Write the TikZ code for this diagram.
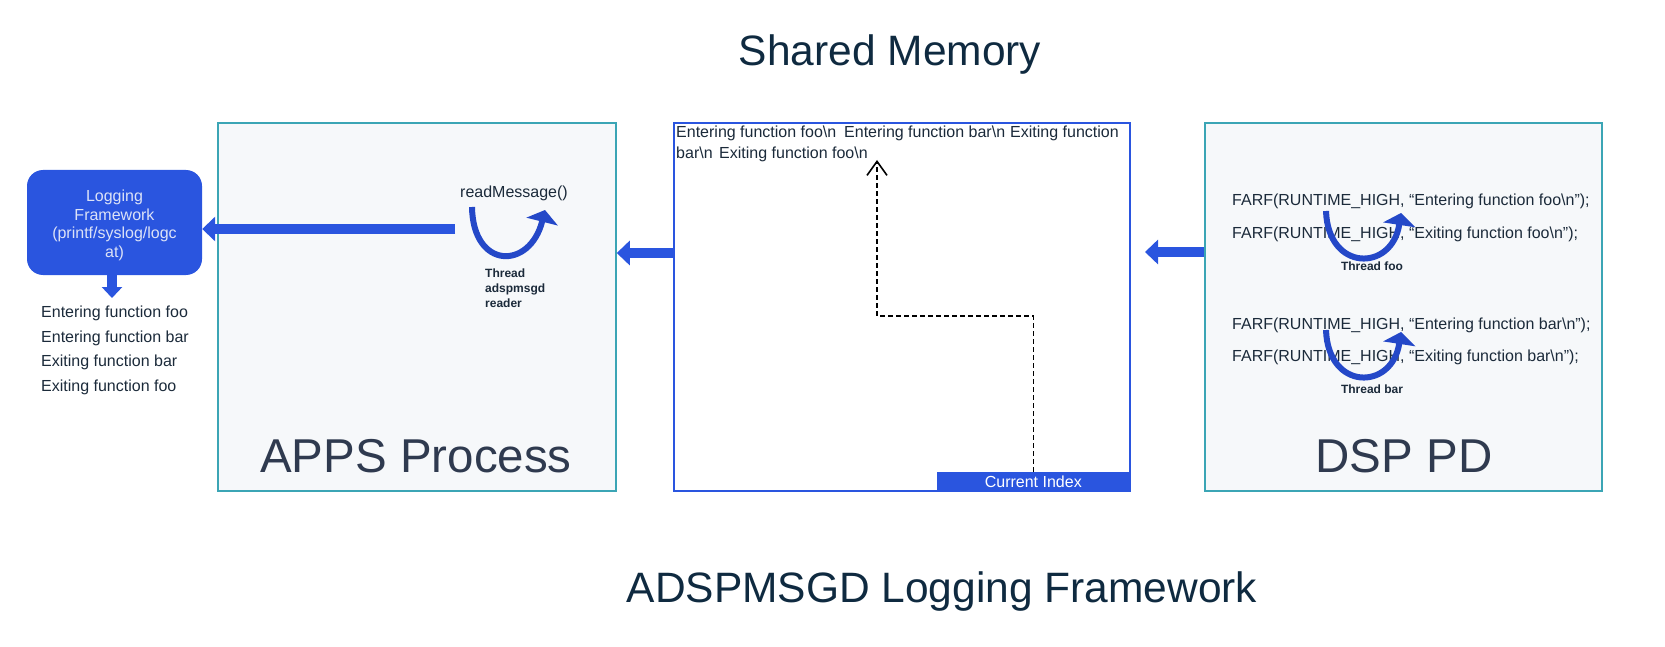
\documentclass[tikz,border=0pt]{standalone}
\usepackage{fontspec}
\setmainfont{Liberation Sans}
\usetikzlibrary{arrows.meta}
\definecolor{blueA}{HTML}{2A55DF}
\definecolor{blueArc}{HTML}{2448C8}
\definecolor{tealB}{HTML}{3BA5B5}
\definecolor{boxfill}{HTML}{F6F8FA}
\definecolor{textc}{HTML}{1B2A3A}
\definecolor{bigtext}{HTML}{2F3A4F}
\definecolor{titlec}{HTML}{0F2A40}
\definecolor{logtext}{HTML}{DCE2F7}
\begin{document}
\begin{tikzpicture}[x=1pt,y=-1pt,
  txt/.style={font=\fontsize{16}{19}\selectfont, text=textc, inner sep=0pt},
  smalltxt/.style={font=\fontsize{12}{15}\selectfont\bfseries, text=textc, inner sep=0pt},
  bigtxt/.style={font=\fontsize{47.5}{52}\selectfont, text=bigtext, inner sep=0pt, anchor=base},
  titletxt/.style={font=\fontsize{42.5}{48}\selectfont, text=titlec, inner sep=0pt, anchor=base},
  panel/.style={draw=tealB, line width=1.5pt, fill=boxfill, minimum height=368pt, inner sep=0pt},
  fat/.style={draw=blueA, line width=10.5pt, -{Triangle[length=13pt,width=24pt]}},
  curvarrow/.style={draw=blueArc, line width=6pt, -{Triangle[length=12pt,width=32pt]}},
]
\useasboundingbox (0,0) rectangle (1665,647);

% titles
\node[titletxt] (t1) at (890,66) {Shared Memory};
\node[titletxt] (t2) at (942,602) {ADSPMSGD Logging Framework};

% panels
\node[panel, minimum width=398pt] (apps) at (417,307) {};
\node[draw=blueA, line width=2pt, fill=white, minimum width=456pt, minimum height=368pt, inner sep=0pt] (shm) at (902,307) {};
\node[panel, minimum width=397pt] (dsp) at (1403.5,307) {};

\node[bigtxt] (appst) at (416,472) {APPS Process};
\node[bigtxt] (dspt) at (1404,472) {DSP PD};

% logging framework box
\node[fill=blueA, rounded corners=16pt, minimum width=175pt, minimum height=105pt, inner sep=0pt] (logbox) at (114.5,222.5) {};
\node[text=logtext, align=center, font=\fontsize{16}{18.5}\selectfont, inner sep=0pt] (logtxt) at ([yshift=-3pt]logbox.center)
      {Logging\\Framework\\(printf/syslog/logc\\at)};

\node[txt, anchor=base west] (l1) at (41,317) {Entering function foo};
\node[txt, anchor=base west] (l2) at (41,342) {Entering function bar};
\node[txt, anchor=base west] (l3) at (41,366) {Exiting function bar};
\node[txt, anchor=base west] (l4) at (41,391) {Exiting function foo};

\draw[draw=blueA, line width=10pt, -{Triangle[length=11pt,width=20pt]}] (logbox.south -| 112,0) -- (112,298);

% APPS contents
\coordinate (readsrc) at (455,229);
\draw[fat] (readsrc) -- (logbox.east |- readsrc);
\node[txt, anchor=base west] (rm) at (460,198) {readMessage()};
\coordinate (ra1) at (472,207);
\coordinate (ra2) at (545,210);
\draw[curvarrow] (ra1) .. controls (473,270) and (530,270) .. (ra2);
\node[smalltxt, anchor=base west] (thr1) at (485,277) {Thread};
\node[smalltxt, anchor=base west] (thr2) at (485,292) {adspmsgd};
\node[smalltxt, anchor=base west] (thr3) at (485,307) {reader};

% shared memory contents
\node[txt, anchor=base west] (s1) at (676,138) {Entering function foo\textbackslash n};
\node[txt, anchor=base west] (s2) at (844,138) {Entering function bar\textbackslash n};
\node[txt, anchor=base west] (s3) at (1010,138) {Exiting function};
\node[txt, anchor=base west] (s4) at (676,159) {bar\textbackslash n};
\node[txt, anchor=base west] (s5) at (719,159) {Exiting function foo\textbackslash n};

\node[fill=blueA, minimum width=193pt, minimum height=20pt, inner sep=0pt, text=white,
      font=\fontsize{16}{19}\selectfont, anchor=south east] (cur) at (1130,492) {Current Index};
\coordinate (dbend) at (877,316);
\coordinate (dtip) at (877,160);
\draw[line width=1.4pt, dash pattern=on 5pt off 3pt, -{Straight Barb[length=14pt,width=20pt,line width=1.6pt]}]
  (cur.north) |- (dbend) -- (dtip);

\draw[fat] ([yshift=54pt]shm.west) -- ([yshift=54pt]apps.east);
\draw[fat] ([yshift=55pt]dsp.west) -- ([yshift=55pt,xshift=14pt]shm.east);

% DSP contents
\node[txt, anchor=base west] (f1) at (1232,206) {FARF(RUNTIME\_HIGH, “Entering function foo\textbackslash n”);};
\node[txt, anchor=base west] (f2) at (1232,238) {FARF(RUNTIME\_HIGH, “Exiting function foo\textbackslash n”);};
\node[txt, anchor=base west] (f3) at (1232,329) {FARF(RUNTIME\_HIGH, “Entering function bar\textbackslash n”);};
\node[txt, anchor=base west] (f4) at (1232,361) {FARF(RUNTIME\_HIGH, “Exiting function bar\textbackslash n”);};

\coordinate (fa1) at (1326,211);
\coordinate (fa2) at (1401,213);
\draw[curvarrow] (fa1) .. controls (1328,272) and (1392,272) .. (fa2);
\node[smalltxt, anchor=base] (tf) at (1372,270) {Thread foo};

\coordinate (fb1) at (1326,330);
\coordinate (fb2) at (1401,332);
\draw[curvarrow] (fb1) .. controls (1328,391) and (1392,391) .. (fb2);
\node[smalltxt, anchor=base] (tb) at (1372,393) {Thread bar};
\end{tikzpicture}
\end{document}
